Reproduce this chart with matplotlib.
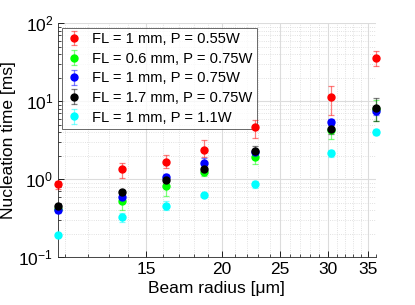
import numpy as np
import matplotlib
matplotlib.use("Agg")
import matplotlib.pyplot as plt
from matplotlib.ticker import FixedLocator, FixedFormatter, NullFormatter, LogLocator

plt.rcParams["font.family"] = ["Liberation Sans", "DejaVu Sans"]

# Beam radius [um]
radius = [10.7, 13.64, 16.17, 18.67, 22.7, 30.4, 36.0]

labels = ["FL = 1 mm, P = 0.55W", "FL = 0.6 mm, P = 0.75W", "FL = 1 mm, P = 0.75W",
          "FL = 1.7 mm, P = 0.75W", "FL = 1 mm, P = 1.1W"]
colors = ["#ff0000", "#00ff00", "#0000ff", "#000000", "#00ffff"]

# nucleation time [ms] and error bars (lower, upper)
t_red = [0.87, 1.34, 1.66, 2.35, 4.64, 11.3, 36.2]
lo_red = [0.13, 0.31, 0.28, 0.40, 1.25, 4.6, 8.0]
hi_red = [0.09, 0.29, 0.37, 0.85, 1.20, 4.5, 8.3]

t_green = [0.42, 0.53, 0.83, 1.23, 1.95, 4.30, 8.0]
e_green = [0.03, 0.12, 0.22, 0.13, 0.38, 1.0, 2.4]

t_blue = [0.40, 0.60, 1.06, 1.60, 2.26, 5.50, 7.6]
e_blue = [0.03, 0.05, 0.10, 0.28, 0.20, 0.50, 0.9]

t_black = [0.455, 0.68, 0.98, 1.36, 2.31, 4.37, 8.3]
e_black = [0.03, 0.05, 0.10, 0.15, 0.40, 0.60, 2.7]

t_cyan = [0.195, 0.326, 0.46, 0.635, 0.86, 2.15, 4.07]
e_cyan = [0.01, 0.04, 0.06, 0.03, 0.09, 0.20, 0.40]

series = [
    (t_red, [lo_red, hi_red]),
    (t_green, e_green),
    (t_blue, e_blue),
    (t_black, e_black),
    (t_cyan, e_cyan),
]

fig = plt.figure(figsize=(4.15, 3.05), dpi=100)
ax = fig.add_axes([0.1398, 0.1564, 0.7655, 0.7672])

for (t, err), col, lab in zip(series, colors, labels):
    cont = ax.errorbar(radius, t, yerr=err, fmt="o", color=col, ms=5, mec=col,
                       ecolor=col, elinewidth=0.9, capsize=2.5, capthick=0.9,
                       label=lab, zorder=3)
    cont[0].set_clip_on(False)
    for c in list(cont[1]) + list(cont[2]):
        c.set_alpha(0.5)
        c.set_clip_on(False)

ax.set_xscale("log")
ax.set_yscale("log")
ax.set_xlim(radius[0], radius[-1])
ax.set_ylim(0.1, 100)

ax.xaxis.set_major_locator(FixedLocator([15, 20, 25, 30, 35]))
ax.xaxis.set_major_formatter(FixedFormatter(["15", "20", "25", "30", "35"]))
ax.xaxis.set_minor_locator(FixedLocator([11, 12, 13, 14, 16, 17, 18, 19, 21, 22, 23, 24,
                                         26, 27, 28, 29, 31, 32, 33, 34, 36]))
ax.xaxis.set_minor_formatter(NullFormatter())
ax.yaxis.set_major_locator(LogLocator(base=10, numticks=10))
ax.yaxis.set_minor_locator(LogLocator(base=10, subs=np.arange(2, 10), numticks=10))

ax.grid(True, which="major", color="#dcdcdc", linewidth=0.8, linestyle="-")
ax.grid(True, which="minor", color="#d8d8d8", linewidth=0.6, linestyle=":")
ax.set_axisbelow(True)

ax.tick_params(which="both", direction="in", labelsize=12.5, top=False, right=False)
ax.tick_params(which="major", length=4, width=0.6)
ax.tick_params(which="minor", length=2, width=0.5)
for s in ["top", "right"]:
    ax.spines[s].set_visible(False)
for s in ["left", "bottom"]:
    ax.spines[s].set_color("#262626")
    ax.spines[s].set_linewidth(0.6)

ax.set_xlabel("Beam radius [μm]", fontsize=12.5, labelpad=3)
ax.set_ylabel("Nucleation time [ms]", fontsize=12.5, labelpad=2)

leg = ax.legend(loc="upper left", fontsize=10.6, frameon=True, fancybox=False,
                edgecolor="#262626", handlelength=1.0, handletextpad=0.7,
                borderaxespad=0.3, labelspacing=0.38, borderpad=0.3)
leg.get_frame().set_linewidth(0.6)
leg.set_zorder(2)

fig.savefig("out.png", dpi=100)
